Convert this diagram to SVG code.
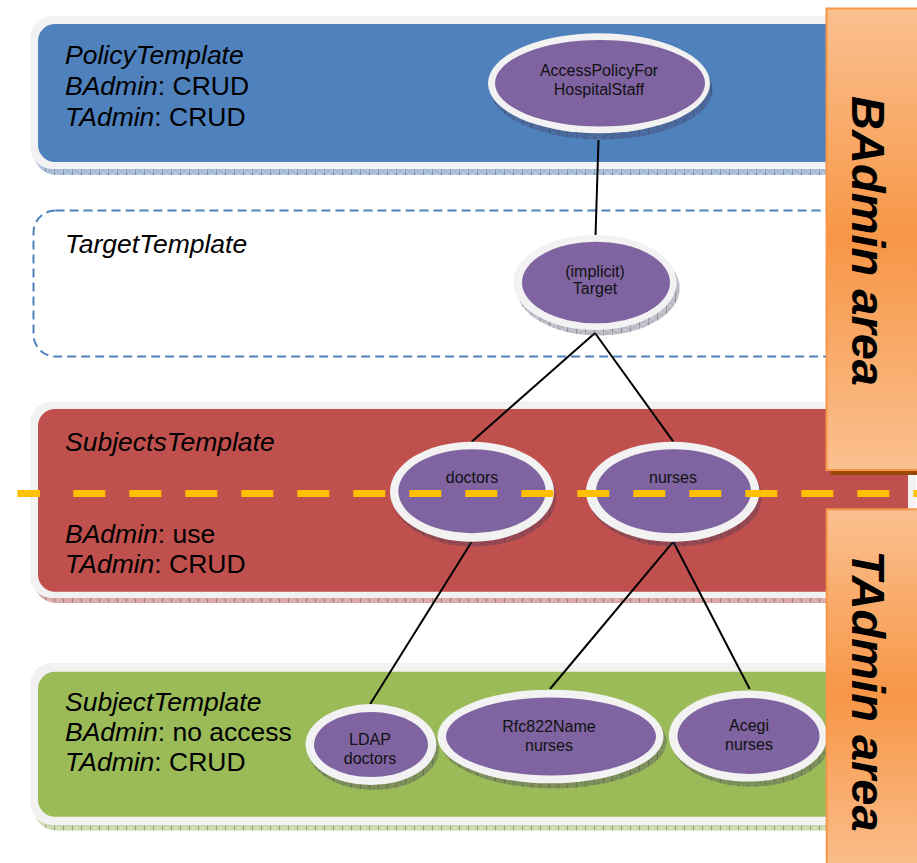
<svg xmlns="http://www.w3.org/2000/svg" width="917" height="863" viewBox="0 0 917 863">
  <defs>
    <!-- hatched extrusion used under panels and ellipses -->
    <pattern id="hatch" width="9" height="6" patternUnits="userSpaceOnUse">
      <path d="M0,0 L9,6 M9,0 L0,6" stroke="#333" stroke-opacity="0.22" stroke-width="0.6" fill="none"/>
      <path d="M0.5,0 V6" stroke="#333" stroke-opacity="0.4" stroke-width="0.8"/>
    </pattern>
    <linearGradient id="orangeGrad" x1="0" y1="0" x2="0" y2="1">
      <stop offset="0" stop-color="#FAC090"/>
      <stop offset="0.5" stop-color="#F79646"/>
      <stop offset="1" stop-color="#FAC090"/>
    </linearGradient>
    <style>
      .ring { fill: #F2F2F2; }
      .oval { fill: #8064A2; }
      .eshadow { fill: #463c64; fill-opacity: 0.3; }
      .hatch { fill: url(#hatch); }
      .title { font-family: "Liberation Sans", Arial, sans-serif; font-size: 26.5px; fill: #000; }
      .it { font-style: italic; }
      .label { font-family: "Liberation Sans", Arial, sans-serif; font-size: 16px; fill: #111; text-anchor: middle; }
      .edge { stroke: #000; stroke-width: 2; fill: none; }
      .area { fill: url(#orangeGrad); stroke: #F79646; stroke-width: 2; }
      .areaShadow { fill: #984807; }
      .areaText { font-family: "Liberation Sans", Arial, sans-serif; font-size: 47px; font-weight: bold; font-style: italic; fill: #000; text-anchor: middle; }
    </style>
  </defs>

  <rect width="917" height="863" fill="#FFFFFF"/>

  <!-- PolicyTemplate panel -->
  <g id="policy-template">
    <rect x="34" y="22" width="882" height="153" rx="22" fill="#4F81BD" fill-opacity="0.45"/>
    <rect x="34" y="22" width="882" height="153" rx="22" class="hatch"/>
    <rect x="30" y="16" width="886" height="153" rx="22" class="ring"/>
    <rect x="38" y="24" width="870" height="138" rx="17" fill="#4F81BD"/>
    <text class="title" x="65" y="64"><tspan class="it">PolicyTemplate</tspan></text>
    <text class="title" x="65" y="95"><tspan class="it">BAdmin</tspan>: CRUD</text>
    <text class="title" x="65" y="126"><tspan class="it">TAdmin</tspan>: CRUD</text>
  </g>

  <!-- TargetTemplate panel (dashed outline only) -->
  <g id="target-template">
    <rect x="33.5" y="210.5" width="900" height="146" rx="22" fill="none" stroke="#4F81BD" stroke-width="2" stroke-dasharray="9 5"/>
    <text class="title it" x="65" y="253">TargetTemplate</text>
  </g>

  <!-- SubjectsTemplate panel -->
  <g id="subjects-template">
    <rect x="34" y="407" width="882" height="196" rx="22" fill="#C0504D" fill-opacity="0.45"/>
    <rect x="34" y="407" width="882" height="196" rx="22" class="hatch"/>
    <rect x="30" y="401.5" width="886" height="196.5" rx="22" class="ring"/>
    <rect x="38" y="409" width="870" height="182.7" rx="17" fill="#C0504D"/>
    <text class="title it" x="65" y="451">SubjectsTemplate</text>
    <text class="title" x="65" y="543"><tspan class="it">BAdmin</tspan>: use</text>
    <text class="title" x="65" y="573"><tspan class="it">TAdmin</tspan>: CRUD</text>
  </g>

  <!-- SubjectTemplate panel -->
  <g id="subject-template">
    <rect x="34" y="668.5" width="882" height="162" rx="22" fill="#9BBB59" fill-opacity="0.45"/>
    <rect x="34" y="668.5" width="882" height="162" rx="22" class="hatch"/>
    <rect x="30" y="663" width="886" height="162" rx="22" class="ring"/>
    <rect x="38" y="671.7" width="870" height="145" rx="17" fill="#9BBB59"/>
    <text class="title it" x="65" y="711">SubjectTemplate</text>
    <text class="title" x="65" y="741"><tspan class="it">BAdmin</tspan>: no access</text>
    <text class="title" x="65" y="771"><tspan class="it">TAdmin</tspan>: CRUD</text>
  </g>

  <!-- connectors -->
  <g id="connectors">
    <line class="edge" x1="598.5" y1="140" x2="595.5" y2="236"/>
    <line class="edge" x1="595" y1="333" x2="471.7" y2="441.7"/>
    <line class="edge" x1="595" y1="333" x2="673.3" y2="441.7"/>
    <line class="edge" x1="471.7" y1="541.7" x2="370.2" y2="704"/>
    <line class="edge" x1="673.3" y1="541.7" x2="550" y2="689"/>
    <line class="edge" x1="673.3" y1="541.7" x2="749.7" y2="689"/>
  </g>

  <!-- ellipse nodes -->
  <g id="access-policy">
    <ellipse class="eshadow" cx="601.5" cy="89.5" rx="111" ry="50"/>
    <ellipse class="hatch" cx="601.5" cy="89.5" rx="111" ry="50"/>
    <ellipse class="ring" cx="599" cy="83.3" rx="111" ry="50"/>
    <ellipse class="oval" cx="600" cy="83.3" rx="105" ry="43.3"/>
    <text class="label" x="599" y="75.7">AccessPolicyFor</text>
    <text class="label" x="599" y="95">HospitalStaff</text>
  </g>

  <g id="target">
    <ellipse class="eshadow" cx="598" cy="288" rx="81.7" ry="47.5"/>
    <ellipse class="hatch" cx="598" cy="288" rx="81.7" ry="47.5"/>
    <ellipse class="ring" cx="595" cy="282.5" rx="81.7" ry="47.5"/>
    <ellipse class="oval" cx="596" cy="282.5" rx="74" ry="40.8"/>
    <text class="label" x="595" y="276.7">(implicit)</text>
    <text class="label" x="595" y="294">Target</text>
  </g>

  <g id="doctors">
    <ellipse class="eshadow" cx="474.5" cy="496.5" rx="82" ry="50"/>
    <ellipse class="hatch" cx="474.5" cy="496.5" rx="82" ry="50"/>
    <ellipse class="ring" cx="472" cy="491.7" rx="82" ry="50"/>
    <ellipse class="oval" cx="472" cy="491.3" rx="73.7" ry="42"/>
    <text class="label" x="472" y="483.3">doctors</text>
  </g>

  <g id="nurses">
    <ellipse class="eshadow" cx="675.5" cy="496.5" rx="86.7" ry="50"/>
    <ellipse class="hatch" cx="675.5" cy="496.5" rx="86.7" ry="50"/>
    <ellipse class="ring" cx="672.7" cy="491.7" rx="86.7" ry="50"/>
    <ellipse class="oval" cx="673.5" cy="491.3" rx="77.5" ry="42"/>
    <text class="label" x="673" y="483.3">nurses</text>
  </g>

  <g id="ldap-doctors">
    <ellipse class="eshadow" cx="373.5" cy="749.5" rx="65.4" ry="40.5"/>
    <ellipse class="hatch" cx="373.5" cy="749.5" rx="65.4" ry="40.5"/>
    <ellipse class="ring" cx="371" cy="744.6" rx="65.4" ry="40.5"/>
    <ellipse class="oval" cx="371" cy="744.6" rx="57" ry="32.5"/>
    <text class="label" x="370" y="745.4">LDAP</text>
    <text class="label" x="370" y="763.7">doctors</text>
  </g>

  <g id="rfc822-nurses">
    <ellipse class="eshadow" cx="553.5" cy="741.5" rx="113" ry="46.8"/>
    <ellipse class="hatch" cx="553.5" cy="741.5" rx="113" ry="46.8"/>
    <ellipse class="ring" cx="550.5" cy="736.5" rx="113" ry="46.8"/>
    <ellipse class="oval" cx="551" cy="736.5" rx="105" ry="39"/>
    <text class="label" x="549" y="731.7">Rfc822Name</text>
    <text class="label" x="549" y="750.6">nurses</text>
  </g>

  <g id="acegi-nurses">
    <ellipse class="eshadow" cx="751" cy="741" rx="79.2" ry="45.6"/>
    <ellipse class="hatch" cx="751" cy="741" rx="79.2" ry="45.6"/>
    <ellipse class="ring" cx="748" cy="736" rx="79.2" ry="45.6"/>
    <ellipse class="oval" cx="748.5" cy="736" rx="71" ry="38"/>
    <text class="label" x="749" y="731">Acegi</text>
    <text class="label" x="749" y="750">nurses</text>
  </g>

  <!-- boundary between the BAdmin and TAdmin areas -->
  <g id="area-boundary" stroke="#FFC000" stroke-width="7" fill="none">
    <line x1="17.3" y1="493.5" x2="40" y2="493.5"/>
    <line x1="73.3" y1="493.5" x2="917" y2="493.5" stroke-dasharray="32 24"/>
  </g>

  <!-- area labels -->
  <g id="badmin-area">
    <rect class="areaShadow" x="830.5" y="13" width="95" height="462"/>
    <rect class="area" x="826.5" y="8.5" width="95" height="461.5"/>
    <text class="areaText" transform="translate(852,241) rotate(90)" x="0" y="0">BAdmin area</text>
  </g>

  <g id="tadmin-area">
    <rect class="area" x="826.7" y="509.3" width="95" height="370"/>
    <text class="areaText" transform="translate(852,691) rotate(90)" x="0" y="0">TAdmin area</text>
  </g>
</svg>
